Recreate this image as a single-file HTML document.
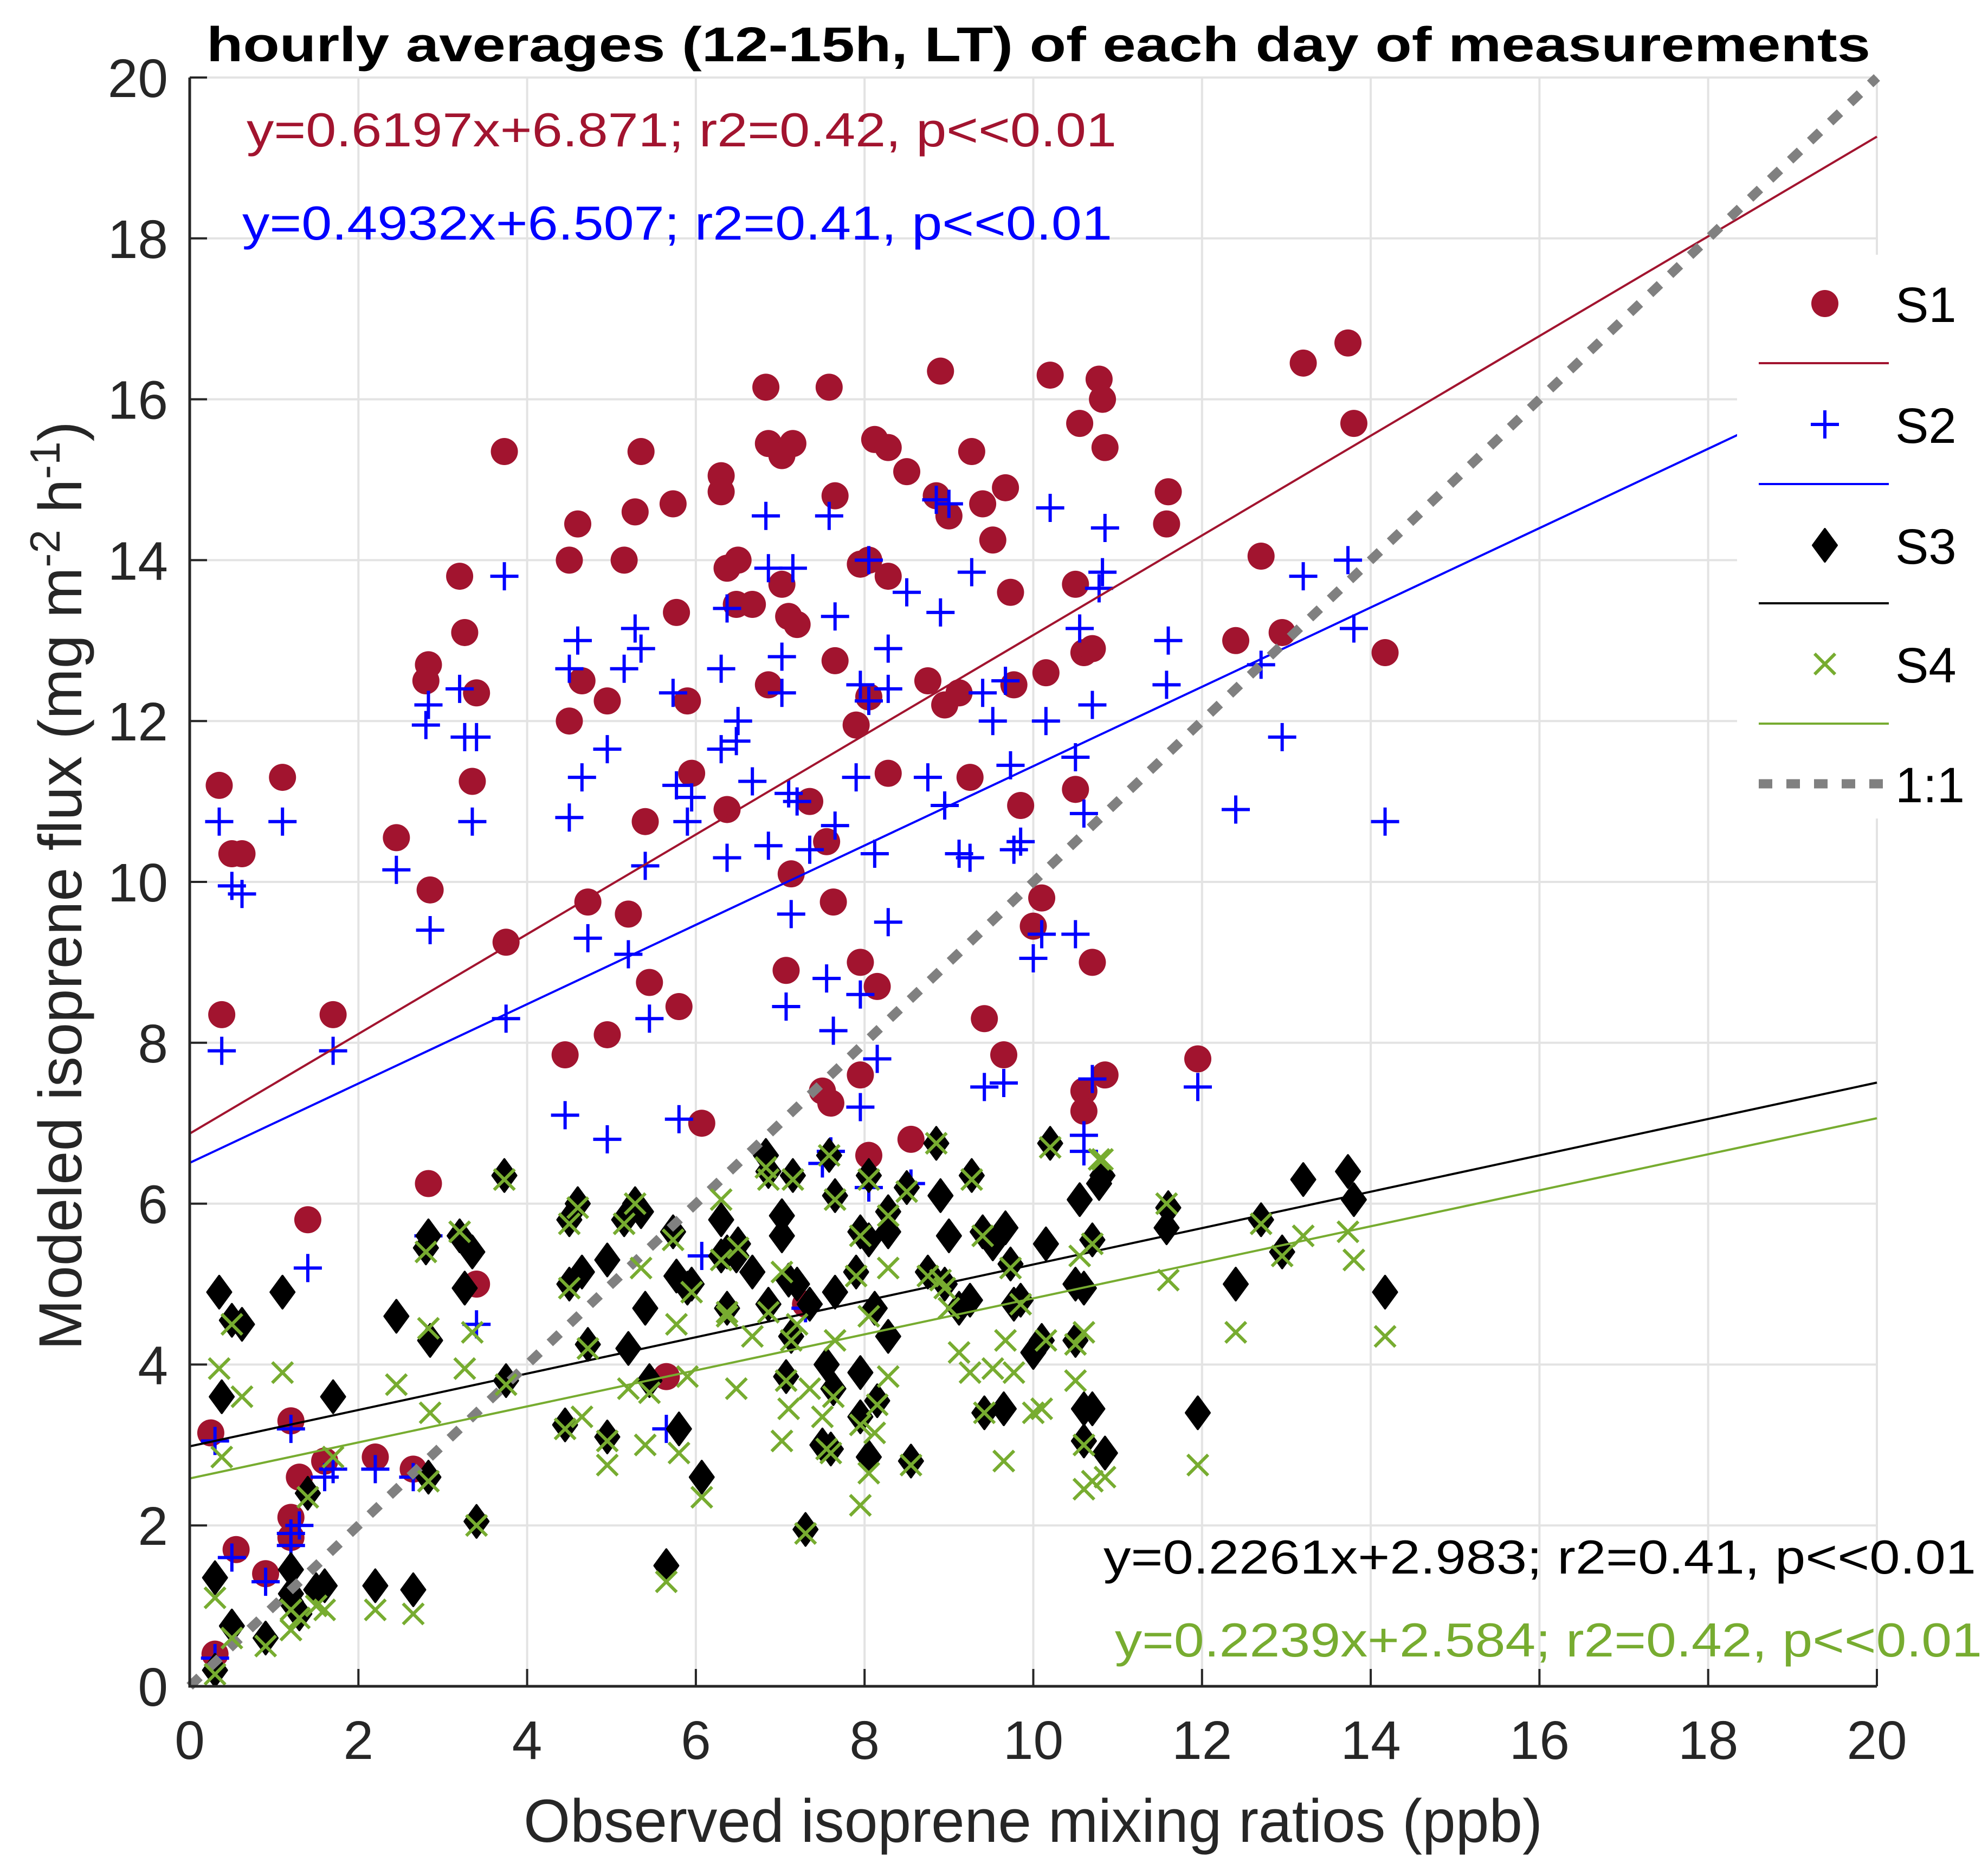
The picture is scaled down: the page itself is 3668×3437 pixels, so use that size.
<!DOCTYPE html>
<html><head><meta charset="utf-8">
<style>
html,body{margin:0;padding:0;background:#fff;}
svg{display:block;font-family:"Liberation Sans",Arial,sans-serif;}
</style></head>
<body>
<svg id="chart" width="3668" height="3437" viewBox="0 0 3668 3437" xmlns="http://www.w3.org/2000/svg">
<rect x="0" y="0" width="3668" height="3437" fill="#fff"/>
<g id="grid"></g>
<g id="series"></g>
<g id="axes"></g>
<text x="1916" y="113" font-size="90" font-weight="bold" text-anchor="middle" textLength="3070" lengthAdjust="spacingAndGlyphs" fill="#000">hourly averages (12-15h, LT) of each day of measurements</text>
<text x="455" y="270" font-size="88" fill="#A2142F" textLength="1605" lengthAdjust="spacingAndGlyphs">y=0.6197x+6.871; r2=0.42, p&lt;&lt;0.01</text>
<text x="447" y="442" font-size="88" fill="#0000FF" textLength="1605" lengthAdjust="spacingAndGlyphs">y=0.4932x+6.507; r2=0.41, p&lt;&lt;0.01</text>
<text x="2036" y="2903" font-size="88" fill="#000" textLength="1610" lengthAdjust="spacingAndGlyphs">y=0.2261x+2.983; r2=0.41, p&lt;&lt;0.01</text>
<text x="2057" y="3056" font-size="88" fill="#77AC30" textLength="1600" lengthAdjust="spacingAndGlyphs">y=0.2239x+2.584; r2=0.42, p&lt;&lt;0.01</text>
<text x="1906" y="3398" font-size="112" fill="#262626" text-anchor="middle" textLength="1880" lengthAdjust="spacingAndGlyphs">Observed isoprene mixing ratios (ppb)</text>
<text transform="translate(150,1634) rotate(-90)" font-size="112" fill="#262626" text-anchor="middle">Modeled isoprene flux (mg m<tspan dy="-40" font-size="78">-2</tspan><tspan dy="40"> h</tspan><tspan dy="-40" font-size="78">-1</tspan><tspan dy="40">)</tspan></text>
<g id="legend"></g>
</svg>
<script>
const xTicks = [0,2,4,6,8,10,12,14,16,18,20];
const yTicks = [0,2,4,6,8,10,12,14,16,18,20];
const seriesNames = ["S1","S2","S3","S4"];
const fitSlopes = [0.6197,0.4932,0.2261,0.2239];
const fitIntercepts = [6.871,6.507,2.983,2.584];
const s1 = [[0.35,11.2],[0.38,8.35],[0.5,10.35],[0.62,10.35],[1.1,11.3],[1.7,8.35],[2.45,10.55],[2.83,12.7],[2.8,12.5],[2.85,9.9],[3.2,13.8],[3.26,13.1],[3.4,12.35],[3.35,11.25],[3.73,15.35],[3.75,9.25],[4.5,14.0],[4.6,14.45],[4.5,12.0],[4.65,12.5],[4.72,9.75],[4.45,7.85],[4.95,12.25],[4.95,8.1],[5.15,14.0],[5.28,14.6],[5.35,15.35],[5.2,9.6],[5.4,10.75],[5.45,8.75],[5.73,14.7],[5.77,13.35],[5.9,12.25],[5.95,11.35],[5.8,8.45],[6.07,7.0],[6.3,15.05],[6.3,14.85],[6.37,13.9],[6.5,14.0],[6.48,13.45],[6.37,10.9],[6.67,13.45],[6.83,16.15],[6.86,15.45],[7.02,15.3],[7.15,15.45],[6.86,12.45],[7.02,13.7],[7.1,13.3],[7.2,13.2],[7.13,10.1],[7.07,8.9],[7.35,11.0],[7.58,16.15],[7.65,14.8],[7.65,12.75],[7.55,10.5],[7.63,9.75],[7.5,7.4],[7.6,7.25],[7.9,11.95],[7.95,13.95],[8.05,14.0],[8.05,12.3],[7.95,9.0],[7.95,7.6],[8.12,15.5],[8.28,15.4],[8.28,13.8],[8.28,11.35],[8.15,8.7],[8.05,6.6],[8.5,15.1],[8.55,6.8],[8.75,12.5],[8.85,14.8],[8.9,16.35],[8.95,12.2],[9.0,14.55],[9.12,12.35],[9.27,15.35],[9.25,11.3],[9.4,14.7],[9.52,14.25],[9.42,8.3],[9.65,7.85],[9.67,14.9],[9.73,13.6],[9.77,12.45],[9.85,10.95],[10.0,9.45],[10.1,9.8],[10.15,12.6],[10.2,16.3],[10.55,15.7],[10.5,13.7],[10.5,11.15],[10.6,12.85],[10.7,9.0],[10.6,7.4],[10.6,7.15],[10.7,12.9],[10.78,16.25],[10.82,16.0],[10.85,15.4],[10.85,7.6],[11.6,14.85],[11.58,14.45],[11.95,7.8],[12.4,13.0],[12.7,14.05],[12.95,13.1],[13.2,16.45],[13.73,16.7],[13.8,15.7],[14.17,12.85],[2.83,6.25],[3.4,5.0],[1.4,5.8],[1.2,3.3],[1.3,2.6],[1.2,2.1],[1.2,1.85],[0.9,1.4],[0.55,1.7],[0.25,3.15],[0.3,0.4],[1.6,2.8],[2.2,2.85],[2.65,2.7],[5.65,3.85],[7.3,4.75]];
const s2 = [[0.35,10.75],[0.38,7.9],[0.5,9.95],[0.62,9.85],[1.1,10.75],[1.7,7.9],[2.45,10.15],[2.83,12.2],[2.8,11.95],[2.85,9.4],[3.2,12.4],[3.26,11.8],[3.4,11.8],[3.35,10.75],[3.73,13.8],[3.75,8.3],[4.5,12.65],[4.6,13.0],[4.5,10.8],[4.65,11.3],[4.72,9.3],[4.45,7.1],[4.95,11.65],[4.95,6.8],[5.15,12.65],[5.28,13.15],[5.35,12.9],[5.2,9.1],[5.4,10.2],[5.45,8.3],[5.73,12.35],[5.77,11.2],[5.9,10.75],[5.95,11.05],[5.8,7.05],[6.07,5.35],[6.3,12.65],[6.3,11.65],[6.37,13.4],[6.5,12.0],[6.48,11.75],[6.37,10.3],[6.67,11.25],[6.83,14.55],[6.86,13.9],[7.02,12.8],[7.15,13.9],[6.86,10.45],[7.02,12.35],[7.1,11.1],[7.2,11.0],[7.13,9.6],[7.07,8.45],[7.35,10.4],[7.58,14.55],[7.65,13.3],[7.65,10.7],[7.55,8.8],[7.63,8.15],[7.5,6.5],[7.6,6.65],[7.9,11.3],[7.95,12.45],[8.05,14.0],[8.05,12.25],[7.95,8.6],[7.95,7.2],[8.12,10.35],[8.28,12.9],[8.28,12.4],[8.28,9.5],[8.15,7.8],[8.05,6.2],[8.5,13.6],[8.55,6.25],[8.75,11.3],[8.85,14.75],[8.9,13.35],[8.95,10.95],[9.0,14.7],[9.12,10.35],[9.27,13.85],[9.25,10.3],[9.4,12.35],[9.52,12.0],[9.42,7.45],[9.65,7.5],[9.67,12.5],[9.73,11.45],[9.77,10.4],[9.85,10.5],[10.0,9.05],[10.1,9.35],[10.15,12.0],[10.2,14.65],[10.55,13.15],[10.5,11.55],[10.5,9.35],[10.6,10.85],[10.7,12.2],[10.6,6.85],[10.6,6.65],[10.7,7.55],[10.78,13.65],[10.82,13.85],[10.85,14.4],[11.6,13.0],[11.58,12.45],[11.95,7.45],[12.4,10.9],[12.7,12.7],[12.95,11.8],[13.2,13.8],[13.73,14.0],[13.8,13.15],[14.17,10.75],[0.3,3.05],[0.5,1.6],[0.9,1.3],[1.2,3.2],[1.3,2.0],[1.4,5.2],[1.2,1.75],[1.6,2.6],[2.2,2.7],[2.65,2.6],[3.4,4.5],[2.83,5.6],[0.3,0.35],[1.2,1.9],[5.65,3.2],[7.3,4.7],[1.7,2.7]];
const s3 = [[0.35,4.9],[0.38,3.6],[0.5,4.55],[0.62,4.5],[1.1,4.9],[1.7,3.6],[2.45,4.6],[2.83,5.6],[2.8,5.45],[2.85,4.3],[3.2,5.6],[3.26,4.95],[3.35,5.4],[3.4,2.05],[3.73,6.35],[3.75,3.8],[4.5,5.8],[4.6,6.0],[4.45,3.25],[4.5,5.0],[4.65,5.15],[4.72,4.25],[4.95,5.3],[4.95,3.1],[5.15,5.8],[5.28,6.0],[5.35,5.9],[5.2,4.2],[5.4,4.7],[5.45,3.8],[5.73,5.65],[5.77,5.1],[5.9,4.95],[5.95,5.0],[5.8,3.2],[6.07,2.6],[6.3,5.8],[6.3,5.35],[6.37,5.4],[6.5,5.5],[6.48,5.35],[6.37,4.7],[6.67,5.15],[6.83,6.6],[6.86,6.4],[7.02,5.85],[7.15,6.35],[6.86,4.75],[7.02,5.6],[7.1,5.05],[7.2,5.0],[7.13,4.35],[7.07,3.85],[7.35,4.75],[7.58,6.6],[7.65,6.1],[7.65,4.9],[7.55,4.0],[7.63,3.7],[7.5,3.0],[7.6,2.95],[7.9,5.15],[7.95,5.65],[8.05,6.35],[8.05,5.55],[7.95,3.9],[7.95,3.35],[8.12,4.7],[8.28,5.9],[8.28,5.65],[8.28,4.35],[8.15,3.55],[8.05,2.85],[8.5,6.2],[8.55,2.8],[8.75,5.15],[8.85,6.75],[8.9,6.1],[8.95,5.0],[9.0,5.6],[9.12,4.7],[9.27,6.35],[9.25,4.8],[9.4,5.65],[9.52,5.5],[9.42,3.4],[9.65,3.45],[9.67,5.7],[9.73,5.25],[9.77,4.75],[9.85,4.8],[10.0,4.15],[10.1,4.3],[10.15,5.5],[10.2,6.75],[10.55,6.05],[10.5,5.0],[10.5,4.3],[10.6,4.95],[10.7,5.55],[10.6,3.45],[10.6,3.05],[10.7,3.45],[10.78,6.25],[10.82,6.35],[10.85,2.9],[11.6,5.95],[11.58,5.7],[11.95,3.4],[12.4,5.0],[12.7,5.8],[12.95,5.4],[13.2,6.3],[13.73,6.4],[13.8,6.05],[14.17,4.9],[0.3,1.35],[0.5,0.75],[0.9,0.6],[1.2,1.45],[1.3,0.9],[1.4,2.4],[1.2,1.05],[1.6,1.25],[2.2,1.25],[2.65,1.2],[2.83,2.6],[0.3,0.2],[1.5,1.2],[5.65,1.5],[7.3,1.95],[1.2,1.15]];
const s4 = [[0.35,3.95],[0.38,2.85],[0.5,4.5],[0.62,3.6],[1.1,3.9],[1.7,2.85],[2.45,3.75],[2.83,4.45],[2.8,5.4],[2.85,3.4],[3.2,5.65],[3.26,3.95],[3.35,4.4],[3.4,2.0],[3.73,6.3],[3.75,3.75],[4.5,5.75],[4.6,5.95],[4.45,3.2],[4.5,4.95],[4.65,3.35],[4.72,4.2],[4.95,2.75],[4.95,3.05],[5.15,5.75],[5.28,6.0],[5.35,5.2],[5.2,3.7],[5.4,3.0],[5.45,3.65],[5.73,5.55],[5.77,4.5],[5.9,3.85],[5.95,4.9],[5.8,2.9],[6.07,2.35],[6.3,6.05],[6.3,5.3],[6.37,4.6],[6.5,5.45],[6.48,3.7],[6.37,4.65],[6.67,4.35],[6.83,6.45],[6.86,6.3],[7.02,5.15],[7.15,6.3],[6.86,4.65],[7.02,3.05],[7.1,3.45],[7.2,4.5],[7.13,4.3],[7.07,3.8],[7.35,3.7],[7.58,6.6],[7.65,6.05],[7.65,4.3],[7.55,2.95],[7.63,3.6],[7.5,3.35],[7.6,2.9],[7.9,5.1],[7.95,5.6],[8.05,6.3],[8.05,4.6],[7.95,3.25],[7.95,2.25],[8.12,3.15],[8.28,5.85],[8.28,5.2],[8.28,3.85],[8.15,3.5],[8.05,2.65],[8.5,6.15],[8.55,2.75],[8.75,5.1],[8.85,6.75],[8.9,5.05],[8.95,4.95],[9.0,4.7],[9.12,4.15],[9.27,6.3],[9.25,3.9],[9.4,5.6],[9.52,3.95],[9.42,3.4],[9.65,2.8],[9.67,4.3],[9.73,5.2],[9.77,3.9],[9.85,4.75],[10.0,3.4],[10.1,3.45],[10.15,4.3],[10.2,6.7],[10.55,5.35],[10.5,3.8],[10.5,4.25],[10.6,4.4],[10.7,5.5],[10.6,2.45],[10.6,3.0],[10.7,2.55],[10.78,6.55],[10.82,6.55],[10.85,2.6],[11.6,5.05],[11.58,6.0],[11.95,2.75],[12.4,4.4],[12.7,5.75],[12.95,5.35],[13.2,5.6],[13.73,5.65],[13.8,5.3],[14.17,4.35],[0.3,1.1],[0.5,0.6],[0.9,0.5],[1.2,0.7],[1.3,0.85],[1.4,2.35],[1.2,0.95],[1.6,0.95],[2.2,0.95],[2.65,0.9],[2.83,2.55],[0.3,0.15],[1.5,1.0],[5.65,1.3],[7.3,1.9],[1.2,0.7]];

const NS = "http://www.w3.org/2000/svg";
const X0 = 350, X1 = 3463, Y0 = 3111, Y1 = 143;
function sx(v){ return X0 + (v - 0) / 20 * (X1 - X0); }
function sy(v){ return Y0 - (v - 0) / 20 * (Y0 - Y1); }
function mk(tag, attrs, parent){
  const e = document.createElementNS(NS, tag);
  for (const k in attrs) e.setAttribute(k, attrs[k]);
  parent.appendChild(e);
  return e;
}
const grid = document.getElementById('grid');
const axes = document.getElementById('axes');
const ser = document.getElementById('series');
const leg = document.getElementById('legend');

xTicks.forEach(t => {
  const g = mk('line', {x1: sx(t), x2: sx(t), y1: Y1, y2: Y0, stroke: '#e3e3e3', 'stroke-width': 4}, grid);
  
  
  const tk = mk('line', {x1: sx(t), x2: sx(t), y1: Y0, y2: Y0 - 32, stroke: '#262626', 'stroke-width': 4}, axes);
  
  
  const lb = mk('text', {x: sx(t), y: 3245, 'font-size': 100, 'text-anchor': 'middle', fill: '#262626'}, axes);
  lb.textContent = t;
  
  
});
yTicks.forEach(t => {
  const g = mk('line', {x1: X0, x2: X1, y1: sy(t), y2: sy(t), stroke: '#e3e3e3', 'stroke-width': 4}, grid);
  
  
  const tk = mk('line', {x1: X0, x2: X0 + 32, y1: sy(t), y2: sy(t), stroke: '#262626', 'stroke-width': 4}, axes);
  
  
  const lb = mk('text', {x: 310, y: sy(t) + 36, 'font-size': 100, 'text-anchor': 'end', fill: '#262626'}, axes);
  lb.textContent = t;
  
  
});
const ax1 = mk('path', {d: `M${X0},${Y1} V${Y0} H${X1}`, fill: 'none', stroke: '#262626', 'stroke-width': 5}, axes);



function circle(x, y, p, name){
  const e = mk('circle', {cx: x, cy: y, r: 25, fill: '#A2142F'}, p);
  
  
}
function plus(x, y, p, name){
  const e = mk('path', {d: `M${x-26},${y}H${x+26}M${x},${y-26}V${y+26}`, stroke: '#0000FF', 'stroke-width': 6, fill: 'none'}, p);
  
  
}
function diamond(x, y, p, name){
  const e = mk('path', {d: `M${x},${y-30}L${x+22},${y}L${x},${y+30}L${x-22},${y}Z`, fill: '#000', stroke: '#000', 'stroke-width': 4, 'stroke-linejoin': 'round'}, p);
  
  
}
function cross(x, y, p, name){
  const e = mk('path', {d: `M${x-19},${y-19}L${x+19},${y+19}M${x-19},${y+19}L${x+19},${y-19}`, stroke: '#77AC30', 'stroke-width': 6, fill: 'none'}, p);
  
  
}
function fitLine(i, color){
  const e = mk('line', {x1: sx(0), y1: sy(fitIntercepts[i]), x2: sx(20), y2: sy(fitIntercepts[i] + fitSlopes[i] * 20), stroke: color, 'stroke-width': 4}, ser);
  
  
}
s1.forEach(d => circle(sx(d[0]), sy(d[1]), ser, 's1-point'));
s2.forEach(d => plus(sx(d[0]), sy(d[1]), ser, 's2-point'));
s3.forEach(d => diamond(sx(d[0]), sy(d[1]), ser, 's3-point'));
fitLine(0, '#A2142F');
fitLine(1, '#0000FF');
fitLine(2, '#000000');
const one = mk('line', {x1: sx(0), y1: sy(0), x2: sx(20), y2: sy(20), stroke: '#808080', 'stroke-width': 17, 'stroke-dasharray': '25 26'}, ser);


s4.forEach(d => cross(sx(d[0]), sy(d[1]), ser, 's4-point'));
fitLine(3, '#77AC30');

// legend
const lbg = mk('rect', {x: 3205, y: 470, width: 463, height: 1040, fill: '#fff'}, leg);


const LX = 3367, TX = 3497;
circle(LX, 560, leg, 'legend-s1-marker');
plus(LX, 783, leg, 'legend-s2-marker');
diamond(LX, 1006, leg, 'legend-s3-marker');
cross(LX, 1225, leg, 'legend-s4-marker');
const legLines = [[670,'#A2142F','s1'],[893,'#0000FF','s2'],[1113,'#000','s3'],[1335,'#77AC30','s4']];
legLines.forEach(l => {
  const e = mk('line', {x1: 3245, x2: 3485, y1: l[0], y2: l[0], stroke: l[1], 'stroke-width': 4}, leg);
  
  
});
const d11 = mk('line', {x1: 3245, x2: 3485, y1: 1446, y2: 1446, stroke: '#808080', 'stroke-width': 17, 'stroke-dasharray': '25 26'}, leg);


const legText = [[560,'S1'],[783,'S2'],[1006,'S3'],[1225,'S4'],[1446,'1:1']];
legText.forEach(t => {
  const e = mk('text', {x: TX, y: t[0] + 34, 'font-size': 92, fill: '#000'}, leg);
  e.textContent = t[1];
  
  
});
</script>
</body></html>
